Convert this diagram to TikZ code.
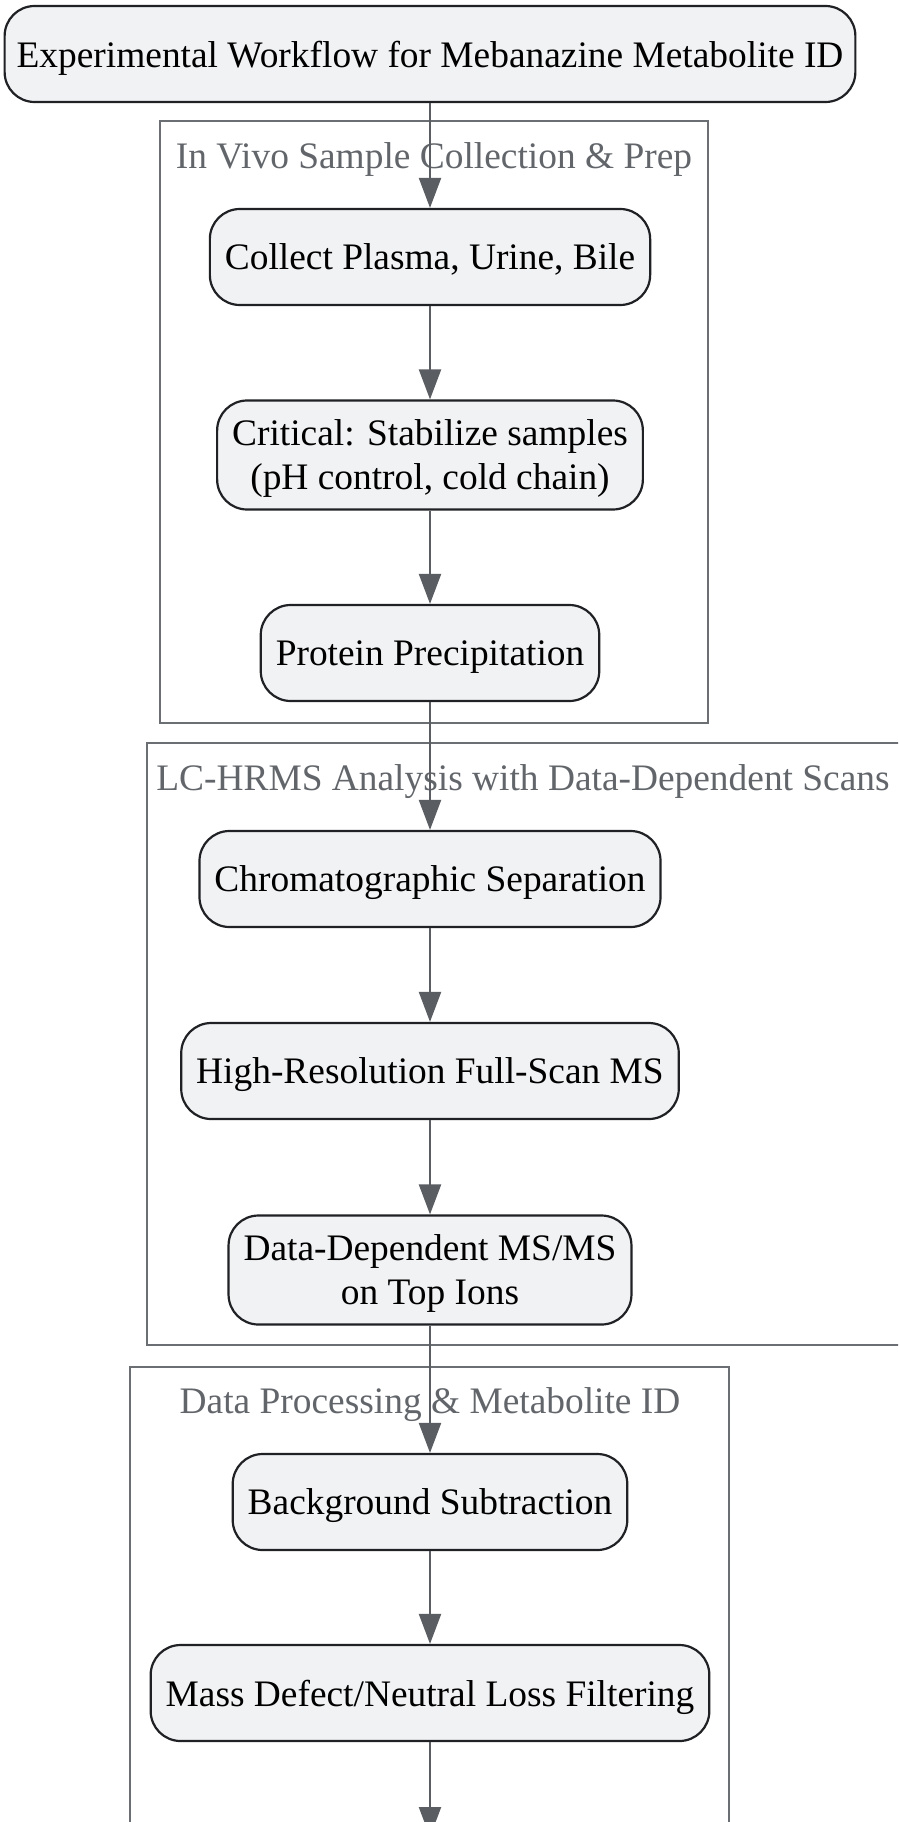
\documentclass[tikz,border=0pt]{standalone}
\usepackage{fontspec}
\setmainfont{Liberation Serif}
\usetikzlibrary{arrows.meta}
\definecolor{boxfill}{HTML}{F1F2F4}
\definecolor{boxline}{HTML}{202124}
\definecolor{grpline}{HTML}{6B6E72}
\definecolor{grptext}{HTML}{62666B}
\definecolor{edgecol}{HTML}{5A5D61}
\begin{document}
\begin{tikzpicture}[x=1pt,y=-1pt,>={Triangle[length=30pt,width=22pt]},
	every node/.style={font=\fontsize{37.4}{44}\selectfont},
	proc/.style={draw=boxline,fill=boxfill,line width=2.2pt,rounded corners=30pt,align=center,inner xsep=15pt,minimum height=96pt,text depth=0pt},
	twoline/.style={proc,minimum height=109pt},
	grp/.style={draw=grpline,line width=2.2pt},
	grptitle/.style={text=grptext,inner sep=0pt},
	flow/.style={->,draw=edgecol,line width=2.2pt}]
		\clip (0,0) rectangle (898,1822);
		\fill[white] (0,0) rectangle (898,1822);
		% groups
		\draw[grp] (160,121) rectangle (708,723);
		\node[grptitle] (g1) at (434,160) {In Vivo Sample Collection \& Prep};
		\draw[grp] (147,743) rectangle (900,1345);
		\node[grptitle] (g2) at (523,782) {LC-HRMS Analysis with Data-Dependent Scans};
		\draw[grp] (130,1367) rectangle (729,1900);
		\node[grptitle] (g3) at (430,1405) {Data Processing \& Metabolite ID};
		% steps
		\node[proc,inner xsep=12pt] (start) at (430,54) {Experimental Workflow for Mebanazine Metabolite ID};
		\node[proc] (collect) at (430,257) {Collect Plasma, Urine, Bile};
		\node[twoline] (stabil) at (430,455) {Critical: Stabilize samples\\(pH control, cold chain)};
		\node[proc] (precip) at (430,653) {Protein Precipitation};
		\node[proc] (chrom) at (430,879) {Chromatographic Separation};
		\node[proc] (fullms) at (430,1071) {High-Resolution Full-Scan MS};
		\node[twoline] (ddms) at (430,1270) {Data-Dependent MS/MS\\on Top Ions};
		\node[proc] (bgsub) at (430,1502) {Background Subtraction};
		\node[proc] (mdf) at (430,1693) {Mass Defect/Neutral Loss Filtering};
		\coordinate (next) at (430,1837);
		\draw[flow] (start) -- (collect);
		\draw[flow] (collect) -- (stabil);
		\draw[flow] (stabil) -- (precip);
		\draw[flow] (precip) -- (chrom);
		\draw[flow] (chrom) -- (fullms);
		\draw[flow] (fullms) -- (ddms);
		\draw[flow] (ddms) -- (bgsub);
		\draw[flow] (bgsub) -- (mdf);
		\draw[flow] (mdf) -- (next);
\end{tikzpicture}
\end{document}
